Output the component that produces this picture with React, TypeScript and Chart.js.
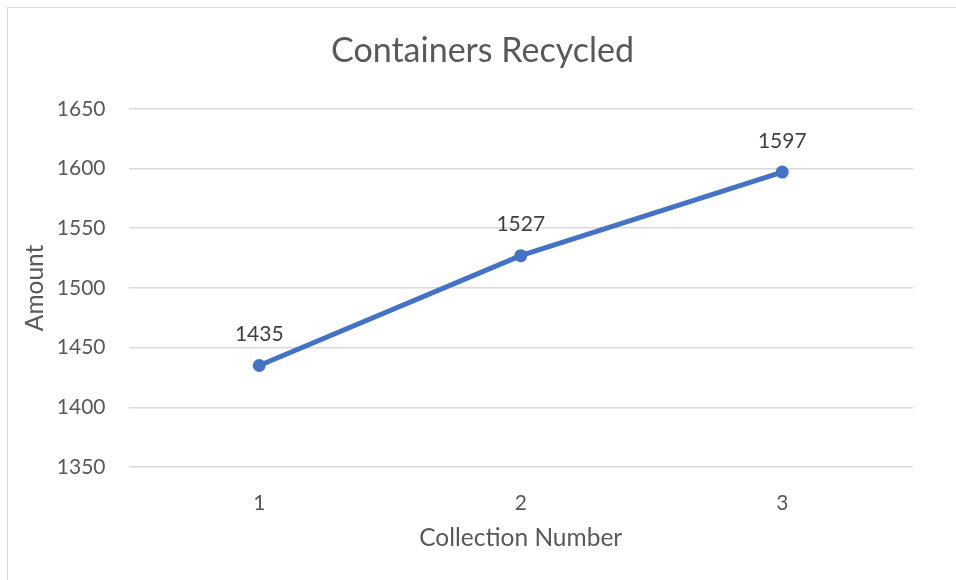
import React, { useEffect, useRef } from "react";
import { Chart, registerables } from "chart.js";

Chart.register(...registerables);

const categories = ["1", "2", "3"];
const amounts = [1435, 1527, 1597];
const yMin = 1350;
const yMax = 1650;
const yStep = 50;

const FONT = "Lato, 'Open Sans', sans-serif";

const dataLabelPlugin = {
  id: "dataLabels",
  afterDatasetsDraw(chart: any) {
    const ctx = chart.ctx;
    ctx.save();
    ctx.font = `21px ${FONT}`;
    ctx.fillStyle = "#404040";
    ctx.textAlign = "center";
    ctx.textBaseline = "middle";
    chart.data.datasets.forEach((ds: any, i: number) => {
      const meta = chart.getDatasetMeta(i);
      meta.data.forEach((pt: any, j: number) => {
        ctx.fillText(String(ds.data[j]), pt.x, pt.y - 31);
      });
    });
    ctx.restore();
  },
};

export default function App() {
  const ref = useRef<HTMLCanvasElement | null>(null);

  useEffect(() => {
    document.body.style.margin = "0";
    const chart = new Chart(ref.current as HTMLCanvasElement, {
      type: "line",
      data: {
        labels: categories,
        datasets: [
          {
            label: "Amount",
            data: amounts,
            yAxisID: "y",
            borderColor: "#4472C4",
            backgroundColor: "#4472C4",
            borderWidth: 5,
            pointRadius: 6.5,
            pointHoverRadius: 6.5,
            pointBackgroundColor: "#4472C4",
            pointBorderColor: "#4472C4",
            pointBorderWidth: 0,
            tension: 0,
          },
        ],
      },
      options: {
        animation: false,
        responsive: false,
        maintainAspectRatio: false,
        layout: { padding: { left: 9, right: 0, top: 0, bottom: 0 } },
        plugins: {
          legend: { display: false },
          tooltip: { enabled: false },
          title: {
            display: true,
            text: "Containers Recycled",
            color: "#595959",
            font: { family: FONT, size: 34, weight: "normal" },
            padding: { top: 31, bottom: 37 },
          },
        },
        scales: {
          x: {
            type: "category",
            offset: true,
            grid: { display: false, drawTicks: false },
            border: { display: false },
            ticks: {
              color: "#595959",
              font: { family: FONT, size: 21 },
              padding: 24,
              maxRotation: 0,
            },
            title: {
              display: true,
              text: "Collection Number",
              color: "#595959",
              font: { family: FONT, size: 24.5 },
              padding: { top: 0, bottom: 27 },
            },
            afterFit(scale: any) {
              scale.height = 113;
            },
          },
          y: {
            position: "left",
            min: yMin,
            max: yMax,
            ticks: {
              stepSize: yStep,
              color: "#595959",
              font: { family: FONT, size: 21 },
              padding: 23,
              callback: (v: any) => String(v),
            },
            grid: { color: "#d9d9d9", lineWidth: 1.5, drawTicks: false },
            border: { display: false },
            title: {
              display: true,
              text: "Amount",
              color: "#595959",
              font: { family: FONT, size: 24.5 },
              padding: { top: 11, bottom: 0 },
            },
            afterFit(scale: any) {
              scale.width = 119.5;
            },
          },
          yRight: {
            type: "linear",
            position: "right",
            display: true,
            ticks: { display: false },
            grid: { display: false, drawTicks: false },
            border: { display: false },
            afterFit(scale: any) {
              scale.width = 43;
            },
          },
        },
      },
      plugins: [dataLabelPlugin],
    });
    return () => chart.destroy();
  }, []);

  return (
    <div style={{ position: "relative", width: 956, height: 580, overflow: "hidden", background: "#fff" }}>
      <div
        style={{
          position: "absolute",
          left: 7,
          top: 7,
          width: 1200,
          height: 1200,
          borderLeft: "1.5px solid #d9d9d9",
          borderTop: "1.5px solid #d9d9d9",
        }}
      />
      <canvas
        ref={ref}
        width={956}
        height={580}
        style={{ position: "absolute", left: 0, top: 0, width: 956, height: 580 }}
      />
    </div>
  );
}
